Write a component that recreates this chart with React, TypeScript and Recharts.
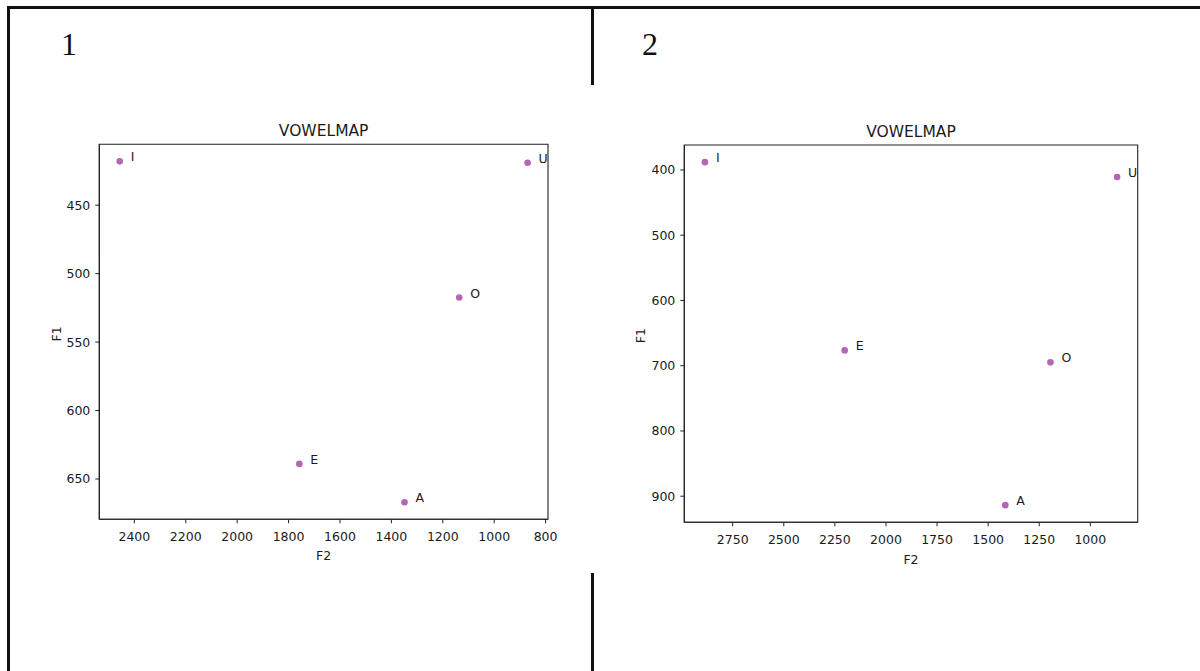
import { ScatterChart, Scatter, XAxis, YAxis, ReferenceArea, Label } from "recharts"

const VOWELS = ["I", "E", "A", "O", "U"]

// map 1
const F2_MAP1 = [2457, 1758, 1349, 1136, 870]
const F1_MAP1 = [418, 639, 667, 517.5, 419]
const F2_TICKS_MAP1 = [2400, 2200, 2000, 1800, 1600, 1400, 1200, 1000, 800]
const F1_TICKS_MAP1 = [450, 500, 550, 600, 650]

// map 2
const F2_MAP2 = [2886, 2202, 1416, 1195, 869]
const F1_MAP2 = [388, 676.5, 913.7, 694.8, 410.7]
const F2_TICKS_MAP2 = [2750, 2500, 2250, 2000, 1750, 1500, 1250, 1000]
const F1_TICKS_MAP2 = [400, 500, 600, 700, 800, 900]

const FONT = "DejaVu Sans"
const INK = "#1a1a1a"
const SPINE = "#222"

// matplotlib style 5% padding on each side
const padded = (vals: number[]): [number, number] => {
  const lo = Math.min(...vals)
  const hi = Math.max(...vals)
  const r = hi - lo
  return [lo - 0.05 * r, hi + 0.05 * r]
}

const VowelDot = (props: any) => {
  const { cx, cy, payload } = props
  return (
    <g>
      <circle cx={cx} cy={cy} r={3.3} fill="#800080" fillOpacity={0.6} />
      <text x={cx + 11} y={cy} fontSize={12.5} fontFamily={FONT} fill={INK}>
        {payload.vowel}
      </text>
    </g>
  )
}

function VowelMap({ f2, f1, xTicks, yTicks, width, height, margin, xLabelDy, yLabelDx }: any) {
  const data = VOWELS.map((v, i) => ({ vowel: v, f2: f2[i], f1: f1[i] }))
  const xDom = padded(f2)
  const yDom = padded(f1)
  const tickStyle = { fontSize: 12.5, fontFamily: FONT, fill: INK }

  return (
    <ScatterChart width={width} height={height} margin={margin}>
      <XAxis
        type="number"
        dataKey="f2"
        domain={xDom}
        ticks={xTicks}
        reversed
        allowDataOverflow
        height={30}
        tickSize={4}
        tickMargin={9}
        tick={tickStyle}
        axisLine={{ stroke: SPINE, strokeWidth: 1.1 }}
        tickLine={{ stroke: SPINE, strokeWidth: 1 }}
      >
        <Label
          content={({ viewBox }: any) => (
            <text
              x={viewBox.x + viewBox.width / 2}
              y={viewBox.y + xLabelDy}
              textAnchor="middle"
              fontSize={12.5}
              fontFamily={FONT}
              fill={INK}
            >
              F2
            </text>
          )}
        />
      </XAxis>
      <YAxis
        type="number"
        dataKey="f1"
        domain={yDom}
        ticks={yTicks}
        reversed
        allowDataOverflow
        width={60}
        tickSize={4}
        tickMargin={5}
        tick={tickStyle}
        axisLine={{ stroke: SPINE, strokeWidth: 1.1 }}
        tickLine={{ stroke: SPINE, strokeWidth: 1 }}
      >
        <Label
          content={({ viewBox }: any) => {
            const x = viewBox.x + viewBox.width - yLabelDx
            const y = viewBox.y + viewBox.height / 2 + 2
            return (
              <text
                x={x}
                y={y}
                transform={`rotate(-90, ${x}, ${y})`}
                textAnchor="middle"
                fontSize={12.5}
                fontFamily={FONT}
                fill={INK}
              >
                F1
              </text>
            )
          }}
        />
      </YAxis>
      <ReferenceArea
        x1={xDom[0]}
        x2={xDom[1]}
        y1={yDom[0]}
        y2={yDom[1]}
        fill="none"
        stroke={SPINE}
        strokeWidth={1.1}
        ifOverflow="visible"
        label={{
          value: "VOWELMAP",
          position: "top",
          offset: 8,
          fontSize: 15.5,
          fontFamily: FONT,
          fill: INK,
        }}
      />
      <Scatter data={data} shape={<VowelDot />} isAnimationActive={false} />
    </ScatterChart>
  )
}

export default function App() {
  const line = (style: any) => <div style={{ position: "absolute", background: "#111", ...style }} />
  const num = { position: "absolute" as const, top: 24, fontFamily: "Liberation Serif", fontSize: 32, lineHeight: "40px", color: "#111" }

  return (
    <div style={{ position: "absolute", left: 0, top: 0, width: 1200, height: 671, background: "#fff", overflow: "hidden" }}>
      {line({ left: 7, top: 6, width: 1193, height: 3 })}
      {line({ left: 7, top: 6, width: 2.5, height: 665 })}
      {line({ left: 591, top: 6, width: 2.5, height: 79 })}
      {line({ left: 591, top: 573, width: 2.5, height: 98 })}
      <div style={{ ...num, left: 61 }}>1</div>
      <div style={{ ...num, left: 642 }}>2</div>

      <div style={{ position: "absolute", left: 0, top: 0 }}>
        <VowelMap
          f2={F2_MAP1}
          f1={F1_MAP1}
          xTicks={F2_TICKS_MAP1}
          yTicks={F1_TICKS_MAP1}
          width={590}
          height={600}
          margin={{ top: 144.3, right: 42, bottom: 50.7, left: 39.3 }}
          xLabelDy={41}
          yLabelDx={38.6}
        />
      </div>
      <div style={{ position: "absolute", left: 595, top: 0 }}>
        <VowelMap
          f2={F2_MAP2}
          f1={F1_MAP2}
          xTicks={F2_TICKS_MAP2}
          yTicks={F1_TICKS_MAP2}
          width={605}
          height={600}
          margin={{ top: 145, right: 62.3, bottom: 47.7, left: 29.3 }}
          xLabelDy={42}
          yLabelDx={39.3}
        />
      </div>
    </div>
  )
}
